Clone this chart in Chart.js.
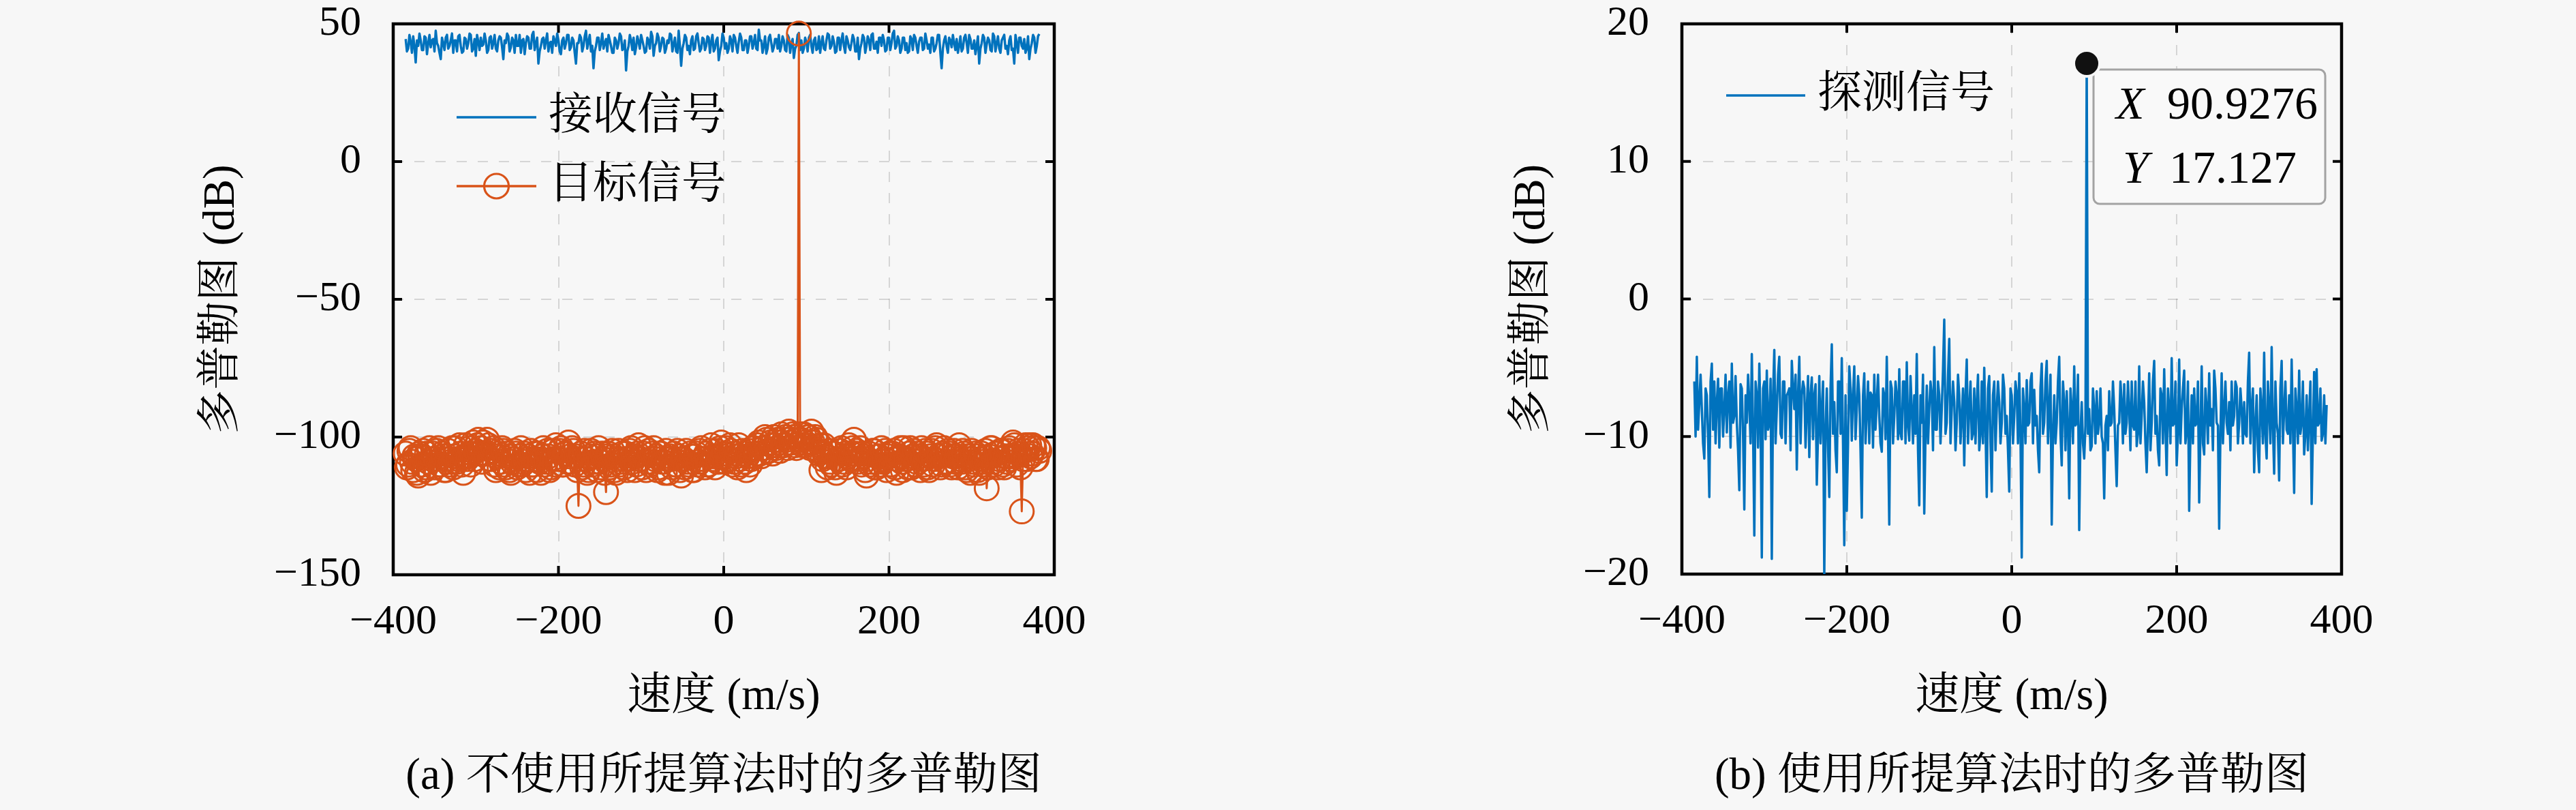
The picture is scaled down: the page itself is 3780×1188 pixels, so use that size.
<!DOCTYPE html>
<html><head><meta charset="utf-8">
<script src="https://cdn.jsdelivr.net/npm/chart.js@4.4.1/dist/chart.umd.min.js"></script>
<style>
html,body{margin:0;padding:0;background:#f7f7f7;}
#wrap{position:relative;width:3780px;height:1188px;overflow:hidden;background:#f7f7f7;}
canvas{position:absolute;top:0;}
#c1{left:0;}
#c2{left:1890px;}
</style></head><body>
<div id="wrap"><canvas id="c1" width="1890" height="1188"></canvas><canvas id="c2" width="1890" height="1188"></canvas></div>
<script>
// ---- data ----
const velocityStart = -384.92;     // first velocity bin (m/s)
const velocityStep = 1.5154385;    // bin spacing (m/s)

const receivedSignal = [
44.5,40, 41,46, 43.5,39.5, 45.5,42, 36,44, 42,46.5, 44,40.5, 40.5,45.5, 45,39, 43,46,
41.5,44, 44.5,40, 47.5,43, 42,39.5, 37.2,45, 43,40.5, 45,46, 41,42, 44,46.5, 39.5,44,
44,40, 45.5,46, 42,39.5, 40,45, 44.5,41, 43,46.5, 46,40, 41,44.5, 38.4,46, 43.5,40.5,
45,42, 42.5,46.5, 44,39.5, 40.5,45, 45.5,41, 43,46, 41,40, 44,45.5, 45,41.5, 37.2,44,
43,46.5, 45.5,40, 41.5,45, 44,39.5, 46,42, 42,46, 39.5,44, 44.5,39, 43,45.5, 45,41,
41,46, 47.1,40.5, 43,45, 35.6,40, 42,44.5, 45,41, 44,46.5, 40,43, 43.5,39.5, 45.5,44,
42,46.5, 44,40, 39,44, 45,41, 43,46, 46,40.5, 41.5,45, 44,39.5, 35.6,43, 43,46,
45,40, 42,45.5, 47.5,41, 43.5,46, 40,42, 33.9,40, 42,45, 45,40.5, 43,46.5, 41,43,
44.5,40, 46,44, 42,39.5, 39.5,45, 44,41, 43,46.5, 45.5,40.5, 41,44, 33.1,40, 42,46,
44,40.5, 45,39, 41.5,45.5, 43.5,41, 46,44, 42,39.5, 40,45, 44,41, 47.1,45.5, 38.4,42,
43,46.5, 45,40, 42,45, 44.5,39.5, 41,44, 43,46.5, 46,40, 42.5,45, 40,39.5, 47.5,42,
34.8,41, 43,46, 45,40.5, 42,39, 44,45.5, 40.5,41, 45.5,46.5, 43,40, 41,45, 44.5,40.5,
42,45.5, 45,39.5, 43.5,46, 40,41, 44,45, 36.8,40, 42,46.5, 45,41, 43,39.5, 41,45.5,
44,40, 46,45, 42,39.5, 43.5,46.5, 45,40.5, 40.5,44, 44,39.5, 42,45.5, 45.5,41, 43,46,
41,40.5, 47.9,44, 44,39.5, 42,45.5, 39.2,41, 45,46, 43,40, 41.5,44.5, 44.5,41, 46,40,
42,45.5, 44,40.5, 40,46, 45,39.5, 43,44.5, 37.6,41, 42,46, 46.7,40.5, 44,39.5, 41,45,
43.5,40, 45,46, 42,39.5, 44,45, 40.5,41, 45.5,39.5, 43,45.5, 41,40.5, 44,46.5, 46,41,
42,45.5, 43.5,39.5, 40,45, 45,40.5, 44,46.5, 42,39.5, 45.5,44, 41.5,40.5, 43,46, 44.5,40,
40,45, 37.2,41, 43,46, 45,39.5, 42,45.5, 44,40.5, 46,46.5, 41,41, 43.5,39.5, 45,45,
42,46, 44,40, 40.5,45, 45,40.5, 43,46.5, 47.5,41, 42,45.5, 44,39.5, 41,45, 45,40.5,
43,39.5, 40,45.5, 44.5,40.5, 46,45, 42,39.5, 43.5,45, 45,40.5, 41,46.5, 44,41, 42.5,39.5,
45,45, 40,41, 43,46, 46,39.5, 33.9,41, 44,45.5, 42,39.5, 45,44, 41.5,46, 43,40.5,
44.5,39.5, 42,45.5, 40,41, 45,46, 43,39.5, 46,44.5, 41,41, 44,39, 42,45.5, 35.6,41,
43,46, 45,39.5, 42.5,45, 44,40.5, 40,46.5, 45.5,40, 43,45.5, 41,39.5, 44,45, 46,41,
42,39, 44,45.5, 40.5,41, 35.6,46, 43,39.5, 45,45, 42,41, 44.5,39.5, 41,45.5, 37.2,41,
43,46, 45,39.5, 42,45.5, 46.3
];

const targetSignal = [
-106,-111, -110,-105, -104,-109, -112,-107, -108,-113, -114,-106, -107,-110, -105,-112, -111,-106, -109,-104,
-113,-108, -106,-111, -108,-105, -104,-110, -110,-106, -107,-112, -112,-108, -105,-110, -109,-104, -111,-107,
-104,-109, -108,-103, -106,-110, -113,-107, -103,-108, -107,-104, -110,-106, -102,-108, -105,-103, -101,-106,
-104,-109, -102,-106, -106,-101, -103,-108, -108,-105, -104,-110, -112,-107, -106,-111, -109,-104, -105,-110,
-111,-106, -107,-112, -113,-109, -108,-105, -106,-111, -110,-107, -104,-110, -109,-106, -112,-108, -107,-113,
-105,-110, -110,-106, -108,-112, -106,-109, -113,-107, -104,-110, -109,-105, -107,-112, -111,-108, -105,-110,
-103,-108, -108,-105, -104,-110, -110,-106, -106,-109, -102,-107, -109,-104, -105,-110, -107,-112, -125,-108,
-106,-111, -110,-105, -108,-113, -112,-107, -105,-110, -109,-106, -107,-112, -104,-109, -111,-106, -108,-113,
-120,-107, -106,-111, -110,-105, -107,-112, -113,-108, -105,-110, -109,-106, -111,-108, -106,-112, -108,-105,
-104,-109, -107,-112, -110,-106, -103,-108, -108,-111, -106,-104, -112,-109, -105,-110, -109,-106, -104,-108,
-107,-112, -111,-106, -106,-109, -109,-113, -105,-108, -113,-107, -108,-111, -106,-110, -110,-105, -107,-112,
-114,-108, -108,-111, -105,-109, -110,-106, -107,-112, -112,-107, -106,-110, -109,-105, -104,-108, -108,-111,
-106,-110, -110,-105, -103,-108, -107,-111, -105,-109, -109,-104, -102,-107, -106,-109, -104,-108, -108,-103,
-105,-110, -109,-106, -107,-111, -103,-108, -110,-105, -106,-109, -112,-107, -105,-110, -108,-104, -104,-107,
-106,-103, -102,-106, -107,-104, -104,-100, -101,-105, -105,-102, -103,-106, -100,-103, -104,-101, -102,-105,
-99,-103, -103,-100, -101,-104, -98,-102, -102,-99, -100,-103, -104,-101, 46.5,-99, -101,-103, -99,-102,
-103,-100, -100,-104, -98,-102, -104,-100, -101,-105, -106,-103, -112,-108, -103,-107, -107,-111, -105,-109,
-110,-106, -106,-111, -113,-108, -108,-105, -104,-110, -109,-106, -111,-107, -103,-108, -106,-104, -101,-106,
-105,-109, -108,-104, -110,-106, -107,-112, -114,-108, -106,-110, -109,-105, -105,-111, -111,-107, -107,-110,
-104,-109, -108,-105, -112,-107, -106,-110, -110,-106, -105,-111, -113,-108, -107,-104, -109,-112, -104,-108,
-108,-111, -106,-104, -111,-107, -105,-110, -109,-106, -107,-112, -104,-108, -110,-105, -106,-111, -112,-107,
-105,-110, -108,-104, -103,-107, -107,-111, -110,-106, -104,-109, -109,-105, -106,-110, -111,-107, -105,-109,
-107,-111, -103,-108, -109,-105, -106,-111, -112,-107, -108,-113, -105,-109, -110,-106, -107,-112, -113,-108,
-106,-110, -109,-105, -118.6,-111, -107,-104, -104,-109, -110,-106, -106,-111, -108,-105, -105,-110, -111,-107,
-109,-105, -104,-108, -107,-102, -103,-107, -110,-105, -106,-111, -127,-108, -105,-103, -108,-104, -103,-107,
-106,-103, -104,-108, -108,-104, -105
];

const detectedSignal = [
-6,-10, -4.2,-9.5, -7.5,-5.5, -8,-10.5, -11.6,-6.5, -7,-10, -14.4,-6, -4.7,-9.5, -6,-10.5, -7.5,-5.8,
-10.8,-6.5, -6.5,-10, -8,-5.5, -9.7,-7, -6,-10.8, -4.7,-9, -8.5,-5.6, -9,-11, -13.9,-6.2, -6.5,-10,
-15.3,-7, -9,-5.5, -7.5,-10.5, -4.0,-9.5, -17.2,-6, -7,-10.8, -4.7,-9, -18.8,-6.5, -6,-10.2, -5.2,-9.5,
-9,-5.8, -18.9,-7, -3.7,-10.5, -8,-5.5, -4.2,-9.8, -10.1,-6, -6,-10.5, -7,-6.8, -6.5,-11, -4.5,-6.5,
-8,-5.5, -12.4,-7, -4.2,-10.5, -7,-6, -6.5,-10.8, -8,-5.6, -11.5,-7, -5.7,-10.2, -7,-6.2, -13.5,-9.8,
-5.6,-10.5, -8,-6, -20.1,-9.5, -6.5,-10.8, -14.4,-6.5, -3.3,-9.8, -7.5,-11, -12.6,-6, -6,-9.8, -4.3,-10.5,
-17.9,-7, -15.4,-10.5, -4.9,-6.5, -10.3,-7, -4.9,-10.2, -8,-5.6, -7,-11, -15.9,-7, -5.4,-10.5, -8,-6,
-10.5,-6.8, -7,-10.8, -5.5,-9.5, -7.5,-5.5, -8.5,-10.5, -11.1,-6.5, -7,-10.2, -4.2,-9.8, -16.4,-6, -6.5,-10.5,
-8.5,-6, -7,-10.2, -5.1,-9.8, -10.2,-6, -6,-10.5, -4.6,-9.2, -10.3,-5.6, -8,-10.5, -7,-9.8, -4.0,-11,
-15.0,-7, -9,-5.5, -15.6,-9.8, -6.3,-10.5, -8,-6, -7,-11, -3.5,-9.5, -9.5,-6, -7,-10.5, -8,-5.2,
-1.5,-9.8, -9,-5.6, -2.9,-10.5, -8,-6, -7.5,-11, -9,-5.5, -7,-10.5, -8.5,-6.5, -12.1,-7, -4.4,-10.5,
-8,-6, -10.2,-9.8, -6.5,-10.5, -7.5,-5.5, -11,-9.8, -6,-10.5, -5,-9.2, -14.4,-6.5, -5.6,-10.5, -14.0,-7,
-6,-11, -8,-6, -7.5,-10.5, -9,-5.5, -6.5,-9.8, -8.5,-11, -14,-6.5, -7,-10.5, -8.5,-6, -6.8,-10.5,
-5.4,-9.8, -18.8,-6.5, -8,-10.5, -5.9,-9.2, -9,-6, -5.4,-10.5, -6.6,-9.2, -8.5,-11, -12.6,-6.5, -4.7,-9.8,
-9,-6, -4.5,-10.5, -8,-5.5, -16.4,-9.8, -7,-10.5, -9,-6, -4.2,-9.8, -12.1,-6, -7.5,-11, -6.7,-9.2,
-14.5,-6.5, -8,-10.5, -4.9,-9.2, -9,-5.5, -16.8,-9.8, -7.5,-10.5, -11.6,-9.2, 17.127,-9.8, -8,-11, -10.7,-6.5,
-8,-10.5, -6.7,-9.8, -9,-6.5, -10,-10.5, -14.5,-9.2, -8.5,-11, -6.7,-9.2, -9,-6, -8,-11, -13.6,-9.2,
-9,-6, -7.5,-10.5, -6.2,-9.8, -9,-6, -8,-11, -6,-9.2, -9.5,-6, -10.7,-9.8, -4.9,-10.5, -8.5,-6,
-7.5,-10.5, -12.6,-9.2, -5.4,-11, -9,-6, -4.5,-9.8, -8.5,-11, -12.1,-6.5, -7,-10.5, -5.1,-9.2, -12.8,-6.5,
-8,-10.5, -4.3,-9.2, -9,-6, -12.1,-9.8, -4.4,-10.5, -8,-6.5, -5.2,-10.5, -9.5,-6, -15.4,-9.8, -7,-10.5,
-6.5,-9.2, -9,-6, -14.8,-9.8, -4.9,-10.5, -11.3,-6.5, -8,-10.5, -5.4,-9.2, -8,-11, -5.2,-6.5, -9,-9.2,
-16.7,-9.8, -5.4,-10.5, -8,-6, -9,-9.8, -7.5,-11, -6,-9.2, -8.5,-6, -6.4,-10.5, -9,-6.5, -8,-10.5,
-7.5,-9.8, -10,-6, -3.9,-10.5, -8,-6.5, -12.6,-9.2, -7,-11, -12.6,-6.5, -8,-10.5, -3.9,-9.8, -11.6,-6,
-8,-10.5, -3.5,-9.2, -12.7,-6, -9,-9.8, -13.2,-6.5, -4.5,-10.5, -8,-6, -9.5,-9.8, -7,-10.5, -4.4,-9.2,
-14.1,-6.5, -8,-10.5, -5.2,-9.8, -9,-6, -11.3,-9.8, -7,-11, -8.5,-6, -14.9,-9.8, -5.3,-10.5, -5.1,-9.2,
-9,-6.5, -10.3,-9.8, -7,-10.5, -7.7
];

const tipX = 90.9276;
const tipY = 17.127;

const xTicks = [-400, -200, 0, 200, 400];
const xTickLabels = ['\u2212400', '\u2212200', '0', '200', '400'];
const yTicksA = [-150, -100, -50, 0, 50];
const yTickLabelsA = ['\u2212150', '\u2212100', '\u221250', '0', '50'];
const yTicksB = [-20, -10, 0, 10, 20];
const yTickLabelsB = ['\u221220', '\u221210', '0', '10', '20'];

const seriesNames = ['接收信号', '目标信号', '探测信号'];
const xTitle = '速度 (m/s)';
const yTitle = '多普勒图 (dB)';
const captions = ['(a) 不使用所提算法时的多普勒图', '(b) 使用所提算法时的多普勒图'];

// ---- styling ----
const FAMILY = '"Liberation Serif", "Noto Serif CJK SC", "Noto Sans CJK SC", serif';
const BLUE = '#0072BD';
const ORANGE = '#D95319';
const GRID = 'rgba(38,38,38,0.16)';

Chart.defaults.font.family = FAMILY;
Chart.defaults.color = '#000';

function buildPoints(values) {
  return values.map((v, i) => ({ x: velocityStart + i * velocityStep, y: v }));
}

function decorPlugin(cfg) {
  return {
    id: 'decor' + cfg.key,
    beforeDatasetsDraw(chart) {
      const ctx = chart.ctx, a = chart.chartArea, xs = chart.scales.x, ys = chart.scales.y;
      ctx.save();
      ctx.strokeStyle = '#000';
      ctx.lineWidth = 4;
      ctx.beginPath();
      xTicks.forEach(v => {
        const p = xs.getPixelForValue(v);
        ctx.moveTo(p, a.bottom); ctx.lineTo(p, a.bottom - 13);
        ctx.moveTo(p, a.top); ctx.lineTo(p, a.top + 13);
      });
      cfg.yTicks.forEach(v => {
        const p = ys.getPixelForValue(v);
        ctx.moveTo(a.left, p); ctx.lineTo(a.left + 13, p);
        ctx.moveTo(a.right, p); ctx.lineTo(a.right - 13, p);
      });
      ctx.stroke();
      ctx.lineWidth = 4.5;
      ctx.strokeRect(a.left, a.top, a.right - a.left, a.bottom - a.top);
      if (cfg.tip) {
        const cx = xs.getPixelForValue(tipX), cy = ys.getPixelForValue(tipY);
        const bx = cx + 10, by = cy + 9, bw = 340, bh = 197, r = 9;
        ctx.beginPath();
        ctx.moveTo(bx + r, by);
        ctx.lineTo(bx + bw - r, by); ctx.arcTo(bx + bw, by, bx + bw, by + r, r);
        ctx.lineTo(bx + bw, by + bh - r); ctx.arcTo(bx + bw, by + bh, bx + bw - r, by + bh, r);
        ctx.lineTo(bx + r, by + bh); ctx.arcTo(bx, by + bh, bx, by + bh - r, r);
        ctx.lineTo(bx, by + r); ctx.arcTo(bx, by, bx + r, by, r);
        ctx.closePath();
        ctx.fillStyle = '#f9f9f9';
        ctx.fill();
        ctx.strokeStyle = '#a3a3a3';
        ctx.lineWidth = 3;
        ctx.stroke();
        ctx.fillStyle = '#000';
        ctx.textBaseline = 'middle';
        ctx.textAlign = 'left';
        ctx.font = 'italic 68px ' + FAMILY;
        ctx.fillText('X', cx + 43, cy + 63);
        ctx.fillText('Y', cx + 53, cy + 157);
        ctx.font = '68px ' + FAMILY;
        ctx.fillText(String(tipX), cx + 118, cy + 63);
        ctx.fillText(String(tipY), cx + 121, cy + 157);
      }
      ctx.restore();
    },
    afterDraw(chart) {
      const ctx = chart.ctx, a = chart.chartArea;
      ctx.save();
      ctx.textBaseline = 'middle';
      ctx.textAlign = 'left';
      ctx.font = '65px ' + FAMILY;
      cfg.legend.forEach(item => {
        const y = a.top + item.dy;
        const x0 = a.left + cfg.legendX0, x1 = a.left + cfg.legendX1;
        ctx.strokeStyle = item.color;
        ctx.lineWidth = 3.5;
        ctx.beginPath(); ctx.moveTo(x0, y); ctx.lineTo(x1, y); ctx.stroke();
        if (item.marker) {
          ctx.lineWidth = 3.2;
          ctx.beginPath(); ctx.arc((x0 + x1) / 2, y, 18, 0, Math.PI * 2); ctx.stroke();
        }
        ctx.fillStyle = '#000';
        ctx.fillText(item.name, a.left + cfg.legendText, y);
      });
      ctx.textAlign = 'center';
      ctx.fillText(cfg.caption, (a.left + a.right) / 2, 1140);
      ctx.restore();
    }
  };
}

function makeScales(cfg) {
  return {
    x: {
      type: 'linear', min: -400, max: 400,
      afterBuildTicks: s => { s.ticks = xTicks.map(v => ({ value: v })); },
      afterFit: s => { s.height = cfg.xHeight; s.paddingLeft = 0; s.paddingRight = 0; },
      grid: { color: GRID, lineWidth: 2, drawTicks: false },
      border: { display: false, dash: [15, 16] },
      ticks: {
        padding: 33, color: '#000', maxRotation: 0, autoSkip: false,
        font: { family: FAMILY, size: 62 },
        callback: (v, i) => xTickLabels[i]
      },
      title: {
        display: true, text: xTitle, color: '#000',
        font: { family: FAMILY, size: 65, lineHeight: 1.2 },
        padding: { top: 0, bottom: 126 }
      }
    },
    y: {
      type: 'linear', min: cfg.yMin, max: cfg.yMax,
      afterBuildTicks: s => { s.ticks = cfg.yTicks.map(v => ({ value: v })); },
      afterFit: s => { s.width = cfg.yWidth; s.paddingTop = 0; s.paddingBottom = 0; },
      grid: { color: GRID, lineWidth: 2, drawTicks: false },
      border: { display: false, dash: [15, 16] },
      ticks: {
        padding: cfg.yTickPad, color: '#000', autoSkip: false,
        font: { family: FAMILY, size: 62 },
        callback: (v, i) => cfg.yLabels[i]
      },
      title: {
        display: true, text: yTitle, color: '#000',
        font: { family: FAMILY, size: 65, lineHeight: 1.2 },
        padding: { top: cfg.yTitlePad, bottom: 0 }
      }
    }
  };
}

const commonOpts = {
  responsive: false, animation: false, devicePixelRatio: 1, events: [],
  plugins: { legend: { display: false }, tooltip: { enabled: false }, title: { display: false } }
};

// ---- chart (a) ----
const cfgA = { key: 'A', yMin: -150, yMax: 50, yTicks: yTicksA, yLabels: yTickLabelsA,
  xHeight: 345, yWidth: 577, yTickPad: 47, yTitlePad: 287,
  legendX0: 93, legendX1: 210, legendText: 228,
  legend: [
    { name: seriesNames[0], color: BLUE, marker: false, dy: 137 },
    { name: seriesNames[1], color: ORANGE, marker: true, dy: 238 }
  ],
  caption: captions[0], tip: false };

new Chart(document.getElementById('c1'), {
  type: 'line',
  data: {
    datasets: [
      { label: seriesNames[0], data: buildPoints(receivedSignal), borderColor: BLUE, borderWidth: 3.5,
        pointRadius: 0, tension: 0, borderJoinStyle: 'round', order: 2 },
      { label: seriesNames[1], data: buildPoints(targetSignal), borderColor: ORANGE, borderWidth: 3,
        pointRadius: 17.5, pointBorderWidth: 3, pointBorderColor: ORANGE, pointBackgroundColor: 'rgba(0,0,0,0)',
        tension: 0, borderJoinStyle: 'round', order: 1, clip: false }
    ]
  },
  options: Object.assign({}, commonOpts, {
    layout: { padding: { left: 0, right: 343, top: 35, bottom: 0 } },
    scales: makeScales(cfgA)
  }),
  plugins: [decorPlugin(cfgA)]
});

// ---- chart (b) ----
const cfgB = { key: 'B', yMin: -20, yMax: 20, yTicks: yTicksB, yLabels: yTickLabelsB,
  xHeight: 346, yWidth: 578, yTickPad: 48, yTitlePad: 320,
  legendX0: 65, legendX1: 181, legendText: 199,
  legend: [ { name: seriesNames[2], color: BLUE, marker: false, dy: 105 } ],
  caption: captions[1], tip: true };

new Chart(document.getElementById('c2'), {
  type: 'line',
  data: {
    datasets: [
      { label: 'datatip', data: [{ x: tipX, y: tipY }], showLine: false, pointRadius: 19,
        pointBorderWidth: 4, pointBorderColor: '#f7f7f7', pointBackgroundColor: '#111111', order: 0, clip: false },
      { label: seriesNames[2], data: buildPoints(detectedSignal), borderColor: BLUE, borderWidth: 3.5,
        pointRadius: 0, tension: 0, borderJoinStyle: 'round', order: 1 }
    ]
  },
  options: Object.assign({}, commonOpts, {
    layout: { padding: { left: 0, right: 344, top: 35, bottom: 0 } },
    scales: makeScales(cfgB)
  }),
  plugins: [decorPlugin(cfgB)]
});
</script>
</body></html>
